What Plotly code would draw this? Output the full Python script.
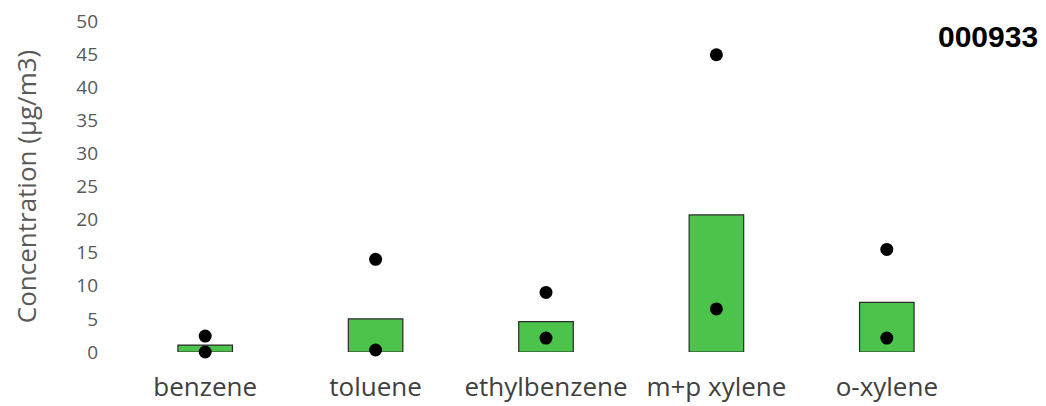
import plotly.graph_objects as go

categories = ["benzene", "toluene", "ethylbenzene", "m+p xylene", "o-xylene"]
bar_values = [1.05, 5.0, 4.6, 20.7, 7.5]
max_values = [2.4, 14.0, 9.0, 44.9, 15.5]
min_values = [0.0, 0.3, 2.1, 6.5, 2.1]

fig = go.Figure()
fig.add_trace(go.Bar(
    x=categories, y=bar_values, width=0.32,
    marker=dict(color="#4cc44c", line=dict(color="#2a2a2a", width=1.2)),
    showlegend=False,
))
fig.add_trace(go.Scatter(
    x=categories, y=max_values, mode="markers",
    marker=dict(color="black", size=13), showlegend=False, cliponaxis=False,
))
fig.add_trace(go.Scatter(
    x=categories, y=min_values, mode="markers",
    marker=dict(color="black", size=13), showlegend=False, cliponaxis=False,
))

fig.update_layout(
    width=1038, height=398,
    margin=dict(l=112, r=74, t=13, b=54),
    paper_bgcolor="white", plot_bgcolor="white",
    font=dict(family="Open Sans", color="#595959"),
    xaxis=dict(showgrid=False, showline=False, zeroline=False, automargin=False,
               tickfont=dict(size=26, color="#404040"), ticklabelstandoff=17,
               ticklabeloverflow="allow"),
    yaxis=dict(range=[0, 50], dtick=5, showgrid=False, showline=False, zeroline=False,
               automargin=False, ticklabeloverflow="allow",
               tickfont=dict(size=19, color="#595959"), ticklabelstandoff=21,
               title=dict(text="Concentration (µg/m3)", font=dict(size=26, color="#595959"), standoff=32)),
    annotations=[dict(text="<b>000933</b>", x=1, xref="paper", xanchor="right",
                      y=1, yref="paper", yanchor="middle", xshift=68, yshift=-15,
                      showarrow=False,
                      font=dict(family="Liberation Sans", size=30, color="black"))],
)
fig.write_html("out.html")
